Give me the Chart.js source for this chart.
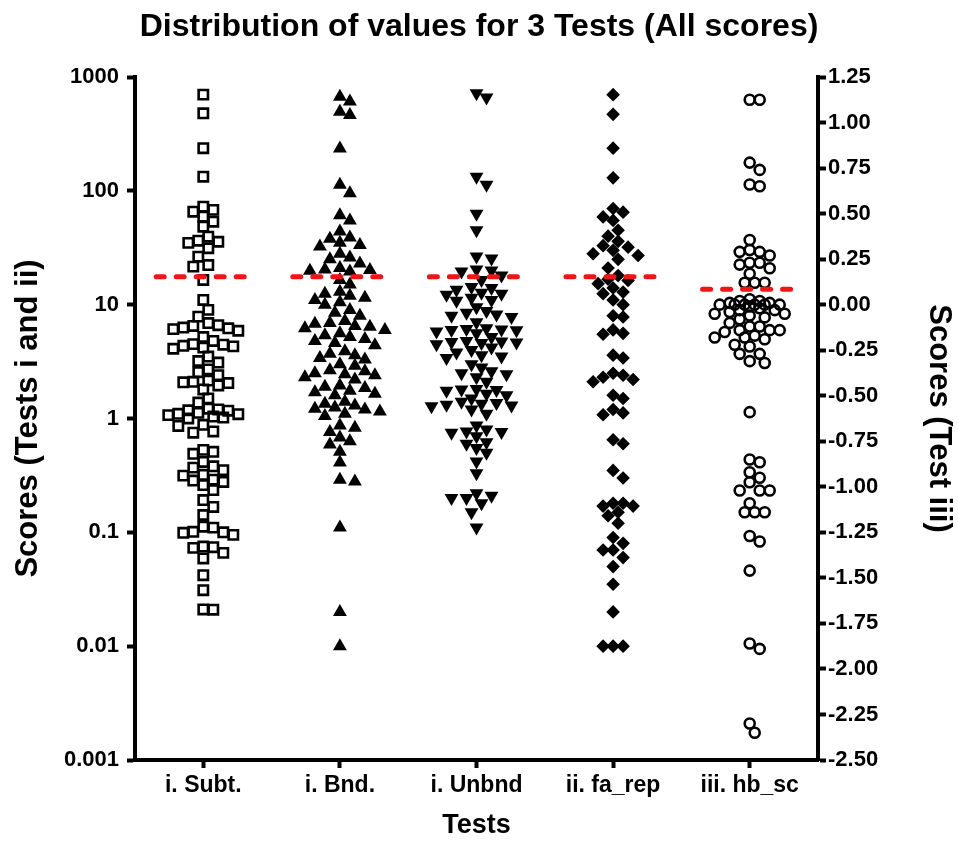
<!DOCTYPE html>
<html>
<head>
<meta charset="utf-8">
<script src="https://cdn.jsdelivr.net/npm/chart.js@4"></script>
<style>
  html, body { margin: 0; padding: 0; background: #fff; }
  #wrap { width: 958px; height: 844px; }
</style>
</head>
<body>
<div id="wrap"><canvas id="dist_chart"></canvas></div>
<script>
const categories = ['i. Subt.', 'i. Bnd.', 'i. Unbnd', 'ii. fa_rep', 'iii. hb_sc']
const left_ticks = [1000, 100, 10, 1, 0.1, 0.01, 0.001]
const right_ticks = [1.25, 1, 0.75, 0.5, 0.25, 0, -0.25, -0.5, -0.75, -1, -1.25, -1.5, -1.75, -2, -2.25, -2.5]

// red cut lines, one per test (last one on the right axis)
const cut_lines = [17.6, 17.6, 17.6, 17.6, 0.085]

const subt = [700, 480, 237, 133,
    72.6, 68, 65.6, 59.3, 53.6, 48.4, 39.6, 36.5, 35.7, 34.9, 31.3, 26.4, 22.3, 21.6,
    16.5, 11, 9, 7.85, 6.9, 6.5, 6.3, 6.2, 6.1, 5.9, 6.6,
    5.2, 4.8, 4.5, 4.45, 4.35, 4.3, 4.2, 4.1, 3.5, 3.2, 3.1, 2.7, 2.4, 2.55,
    2.15, 2.1, 2.08, 2.05, 1.95, 1.8, 1.5, 1.38, 1.22, 1.18, 1.2, 1.17,
    1.12, 1.1, 1.09, 1.07, 1.04, 1.02, 1.0, 0.88, 0.86, 0.77, 0.75,
    0.53, 0.51, 0.49, 0.415, 0.38, 0.37, 0.352, 0.32, 0.315, 0.29, 0.285, 0.277, 0.26, 0.235,
    0.192, 0.167, 0.142, 0.112, 0.11, 0.101, 0.1, 0.099, 0.095, 0.075, 0.074, 0.073, 0.066, 0.059,
    0.042, 0.031, 0.021, 0.0209]

const bnd = [670, 610, 495, 463, 235, 113, 95, 61, 55, 44, 39, 38, 35, 33.5, 32.5, 28, 26, 25, 23, 21,
    20.4, 20.2, 19.9, 19.6, 16.5, 15,
    13, 12, 11, 10.5, 11.5, 12.5, 10, 9, 8.5, 8,
    7.2, 6.8, 6.5, 6.2, 6.9, 6.4, 6.0, 5.4, 5.0, 4.6, 5.2, 4.8, 4.4, 5.6,
    3.9, 3.6, 3.3, 3.7, 3.4, 2.9, 3.0, 2.6, 2.4, 2.3, 2.5, 2.2, 2.45, 2.65,
    1.9, 1.75, 1.6, 1.85, 1.7, 1.65, 1.95, 1.4, 1.3, 1.2, 1.35, 1.25, 1.1, 1.15, 1.05, 1.22,
    0.87, 0.76, 0.83, 0.68, 0.59, 0.63, 0.51, 0.41, 0.29, 0.28, 0.11, 0.02, 0.01]

const unbnd = [720, 660, 133, 113, 63, 45, 26.5, 25.5, 20.4, 20, 19.6, 18,
    16.5, 14, 12.7, 11, 13.5, 12.2, 10.8, 11.5, 14.3, 12.5, 9.5,
    8.5, 8.2, 8.8, 8.0, 7.8, 7, 6.0, 5.6, 6.2, 6.05, 5.8, 6.1, 5.95, 5.2,
    4.7, 4.5, 4.8, 4.6, 4.75, 4.65, 4.2, 4.0, 3.8, 3.5, 3.6, 3.4, 3.0, 2.8,
    2.5, 2.6, 2.45, 2.3, 2.1, 1.8, 1.65, 1.82, 1.75, 1.6, 1.78, 1.5,
    1.37, 1.4, 1.35, 1.3, 1.32, 1.28, 1.2, 1.1,
    0.8, 0.7, 0.76, 0.87, 0.77, 0.75, 0.62, 0.6, 0.5, 0.55, 0.42, 0.33,
    0.2, 0.22, 0.18, 0.21, 0.2, 0.15, 0.11]

const fa_rep = [700, 470, 237, 130, 70, 65, 59, 55, 45, 40, 36, 33, 32, 30, 28, 27, 25, 21, 18,
    16.7, 16.3, 15.3, 14, 12.9, 12.5, 11, 10, 7.8, 8, 6, 5.6, 5.5, 3.6, 3.4,
    2.5, 2.4, 2.3, 2.2, 2.1, 1.6, 1.5, 1.2, 1.12, 1.08, 0.65, 0.6, 0.35, 0.3,
    0.18, 0.18, 0.17, 0.17, 0.15, 0.14, 0.12, 0.09, 0.08, 0.07, 0.07, 0.06, 0.05, 0.035, 0.02,
    0.01, 0.01, 0.01]

const hb_sc = [1.125, 1.125, 0.78, 0.74, 0.65, 0.66, 0.355, 0.29, 0.29, 0.30, 0.27, 0.23, 0.23,
    0.22, 0.20, 0.17, 0.12, 0.12, 0.12,
    0.03, 0.02, 0.01, 0.0, 0.0, 0.0, 0.0, 0.0, -0.01, 0.01, -0.02, 0.02, 0.0,
    -0.03, -0.05, -0.04, -0.06, -0.03, -0.07, -0.08, -0.05, -0.1,
    -0.14, -0.14, -0.12, -0.14, -0.15, -0.12, -0.18, -0.17, -0.18, -0.19,
    -0.23, -0.22, -0.27, -0.27, -0.31, -0.32, -0.59,
    -0.865, -0.85, -0.92, -0.95, -0.975, -1.02, -1.02, -1.02, -1.09, -1.14, -1.14, -1.14,
    -1.27, -1.30, -1.46, -1.86, -1.89, -2.30, -2.35]

// plot area size in px, used to spread the dots sideways
const PLOT_H = 683
const CAT_W = 683 / 5

function to_px(v, axis) {
    if (axis === 'y') return (3 - Math.log10(v)) / 6 * PLOT_H
    return (1.25 - v) / 3.75 * PLOT_H
}

// simple beeswarm: each dot goes as close to the column centre as it can,
// within max_off px; when the row is full it takes the least crowded slot
function swarm(values, idx, axis, size, max_off) {
    const placed = []
    const order = values.map((v, i) => i).sort((a, b) => values[b] - values[a])
    const out = []
    order.forEach(i => {
        const py = to_px(values[i], axis)
        let best = 0, best_d = -1
        for (let k = 0; k < 60; k++) {
            const cand = k === 0 ? 0 : (k % 2 ? 1 : -1) * Math.ceil(k / 2) * 5
            if (Math.abs(cand) > max_off) break
            let d = Infinity
            placed.forEach(p => { d = Math.min(d, Math.hypot(p.x - cand, p.y - py)) })
            if (d >= size) { best = cand; break }
            if (d > best_d) { best_d = d; best = cand }
        }
        placed.push({x: best, y: py})
        out.push({x: idx + best / CAT_W, y: values[i]})
    })
    return out
}

const font_family = '"Liberation Sans", Arial, sans-serif'

function dots(values, idx, axis, style, size, max_off) {
    return Object.assign({
        data: swarm(values, idx, axis, size, max_off),
        yAxisID: axis,
        borderColor: '#000',
        order: 1
    }, style)
}

function cut(idx, axis) {
    const v = cut_lines[idx]
    return {
        data: [{x: idx - 0.345, y: v}, {x: idx + 0.345, y: v}],
        yAxisID: axis,
        showLine: true,
        borderColor: '#f01414',
        borderWidth: 5,
        borderDash: [8, 12],
        borderCapStyle: 'round',
        pointRadius: 0,
        order: 0
    }
}

const datasets = [
    dots(subt, 0, 'y', {pointStyle: 'rect', pointRadius: 6.6, backgroundColor: 'transparent', borderWidth: 2.6}, 10, 40),
    dots(bnd, 1, 'y', {pointStyle: 'triangle', pointRadius: 8, backgroundColor: '#000', borderWidth: 0}, 10.5, 45),
    dots(unbnd, 2, 'y', {pointStyle: 'triangle', rotation: 180, pointRadius: 8, backgroundColor: '#000', borderWidth: 0}, 10.5, 45),
    dots(fa_rep, 3, 'y', {pointStyle: 'rectRot', pointRadius: 6.8, backgroundColor: '#000', borderWidth: 0}, 10, 37),
    dots(hb_sc, 4, 'y2', {pointStyle: 'circle', pointRadius: 5, backgroundColor: 'transparent', borderWidth: 2.6}, 10, 35),
    cut(0, 'y'), cut(1, 'y'), cut(2, 'y'), cut(3, 'y'), cut(4, 'y2')
]

const tick_font = {family: font_family, size: 22, weight: 'bold'}
const x_tick_font = {family: font_family, size: 23, weight: 'bold'}
const title_font = {family: font_family, size: 27, weight: 'bold'}
const side_title_font = {family: font_family, size: 31, weight: 'bold'}
const axis_grid = {drawOnChartArea: false, color: '#000', tickColor: '#000', tickWidth: 4, tickLength: 8}
const axis_border = {display: true, color: '#000', width: 4}

new Chart(document.querySelector('#dist_chart'), {
    type: 'scatter',
    data: {datasets: datasets},
    options: {
        responsive: true,
        maintainAspectRatio: false,
        animation: false,
        clip: false,
        layout: {padding: 0},
        plugins: {
            legend: {display: false},
            tooltip: {enabled: false},
            title: {
                display: true,
                text: 'Distribution of values for 3 Tests (All scores)',
                color: '#000',
                font: {family: font_family, size: 32, weight: 'bold'},
                padding: {top: 8, bottom: 30.6}
            }
        },
        scales: {
            x: {
                type: 'linear',
                min: -0.5,
                max: 4.5,
                afterBuildTicks: scale => { scale.ticks = categories.map((c, i) => ({value: i})) },
                afterFit: scale => { scale.height = 84 },
                ticks: {
                    color: '#000',
                    font: x_tick_font,
                    padding: 4,
                    autoSkip: false,
                    maxRotation: 0,
                    callback: value => categories[value]
                },
                grid: axis_grid,
                border: axis_border,
                title: {display: true, text: 'Tests', color: '#000', font: title_font, padding: {top: 0, bottom: 2}}
            },
            y: {
                type: 'logarithmic',
                position: 'left',
                min: 0.001,
                max: 1000,
                afterBuildTicks: scale => { scale.ticks = left_ticks.map(v => ({value: v})) },
                afterFit: scale => { scale.width = 135 },
                ticks: {
                    color: '#000',
                    font: tick_font,
                    padding: 8,
                    autoSkip: false,
                    callback: value => String(value)
                },
                grid: axis_grid,
                border: axis_border,
                title: {display: true, text: 'Scores (Tests i and ii)', color: '#000', font: side_title_font, padding: {top: 10, bottom: 0}}
            },
            y2: {
                type: 'linear',
                position: 'right',
                min: -2.5,
                max: 1.25,
                afterBuildTicks: scale => { scale.ticks = right_ticks.map(v => ({value: v})) },
                afterFit: scale => { scale.width = 140 },
                ticks: {
                    color: '#000',
                    font: tick_font,
                    padding: 2,
                    autoSkip: false,
                    callback: value => value.toFixed(2)
                },
                grid: axis_grid,
                border: axis_border,
                title: {display: true, text: 'Scores (Test iii)', color: '#000', font: side_title_font, padding: {top: 1, bottom: 0}}
            }
        }
    }
})
</script>
</body>
</html>
